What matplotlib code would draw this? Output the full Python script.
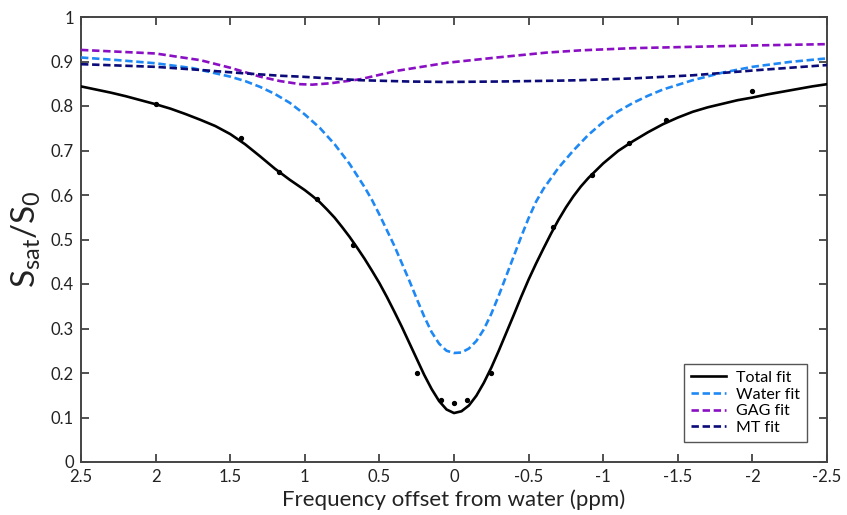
import matplotlib
matplotlib.use("Agg")
import matplotlib.pyplot as plt

plt.rcParams['font.family'] = ['Lato', 'DejaVu Sans']
plt.rcParams['mathtext.default'] = 'regular'
plt.rcParams['axes.unicode_minus'] = False

# Measured data points
data_x = [2.0, 1.43, 1.17, 0.92, 0.675, 0.25, 0.085, 0.0, -0.085, -0.25,
          -0.665, -0.925, -1.17, -1.42, -2.0]
data_y = [0.805, 0.729, 0.651, 0.590, 0.487, 0.200, 0.139, 0.133, 0.139, 0.200,
          0.529, 0.646, 0.716, 0.769, 0.834]

# Total fit
total_x = [2.5, 2.4, 2.3, 2.2, 2.1, 2.0, 1.9, 1.8, 1.7, 1.6, 1.5, 1.4, 1.3, 1.2,
           1.1, 1.0, 0.95, 0.9, 0.85, 0.8, 0.75, 0.7, 0.65, 0.6, 0.55, 0.5, 0.45,
           0.4, 0.35, 0.3, 0.25, 0.2, 0.15, 0.1, 0.05, 0.0, -0.05, -0.1, -0.15,
           -0.2, -0.25, -0.3, -0.35, -0.4, -0.45, -0.5, -0.55, -0.6, -0.65, -0.7,
           -0.75, -0.8, -0.85, -0.9, -1.0, -1.1, -1.2, -1.3, -1.4, -1.5, -1.6,
           -1.7, -1.8, -1.9, -2.0, -2.1, -2.2, -2.3, -2.4, -2.5]
total_y = [0.844, 0.837, 0.830, 0.822, 0.813, 0.804, 0.794, 0.782, 0.769, 0.755,
           0.737, 0.714, 0.687, 0.659, 0.634, 0.611, 0.598, 0.584, 0.567, 0.549,
           0.528, 0.506, 0.482, 0.457, 0.430, 0.402, 0.371, 0.338, 0.304, 0.268,
           0.232, 0.196, 0.164, 0.137, 0.118, 0.110, 0.114, 0.127, 0.149, 0.178,
           0.212, 0.250, 0.290, 0.330, 0.371, 0.410, 0.446, 0.480, 0.513, 0.544,
           0.572, 0.597, 0.619, 0.638, 0.671, 0.699, 0.721, 0.741, 0.759, 0.774,
           0.787, 0.797, 0.805, 0.813, 0.819, 0.826, 0.832, 0.838, 0.844, 0.849]

# Water fit
water_x = [2.5, 2.25, 2.0, 1.75, 1.5, 1.4, 1.3, 1.2, 1.1, 1.0, 0.9, 0.8, 0.7,
           0.6, 0.55, 0.5, 0.45, 0.4, 0.35, 0.3, 0.25, 0.2, 0.15, 0.1, 0.05, 0.0,
           -0.05, -0.1, -0.15, -0.2, -0.25, -0.3, -0.35, -0.4, -0.45, -0.5, -0.55,
           -0.6, -0.7, -0.8, -0.9, -1.0, -1.1, -1.2, -1.3, -1.4, -1.6, -1.8, -2.0,
           -2.25, -2.5]
water_y = [0.909, 0.903, 0.896, 0.885, 0.866, 0.856, 0.843, 0.827, 0.807, 0.781,
           0.751, 0.714, 0.670, 0.618, 0.589, 0.556, 0.521, 0.486, 0.447, 0.408,
           0.367, 0.327, 0.292, 0.266, 0.250, 0.245, 0.246, 0.255, 0.272, 0.298,
           0.333, 0.374, 0.418, 0.462, 0.506, 0.548, 0.585, 0.614, 0.661, 0.700,
           0.735, 0.764, 0.788, 0.807, 0.823, 0.837, 0.858, 0.875, 0.888, 0.899,
           0.907]

# GAG fit
gag_x = [2.5, 2.0, 1.7, 1.5, 1.43, 1.3, 1.166, 1.03, 0.95, 0.83, 0.63, 0.384,
         0.05, -0.286, -0.62, -0.845, -1.2, -1.6, -2.0, -2.5]
gag_y = [0.926, 0.918, 0.903, 0.886, 0.879, 0.866, 0.856, 0.849, 0.848, 0.851,
         0.860, 0.879, 0.897, 0.909, 0.920, 0.925, 0.930, 0.933, 0.936, 0.939]

# MT fit
mt_x = [2.5, 2.0, 1.7, 1.43, 1.166, 1.03, 0.63, 0.3, 0.05, -0.3, -0.71, -0.845,
        -1.2, -1.6, -2.05, -2.5]
mt_y = [0.894, 0.888, 0.881, 0.874, 0.868, 0.866, 0.858, 0.855, 0.854, 0.855,
        0.857, 0.858, 0.862, 0.869, 0.881, 0.892]

x_ticks = [2.5, 2, 1.5, 1, 0.5, 0, -0.5, -1, -1.5, -2, -2.5]
x_tick_labels = ['2.5', '2', '1.5', '1', '0.5', '0', '-0.5', '-1', '-1.5', '-2', '-2.5']
y_ticks = [0, 0.1, 0.2, 0.3, 0.4, 0.5, 0.6, 0.7, 0.8, 0.9, 1]
y_tick_labels = ['0', '0.1', '0.2', '0.3', '0.4', '0.5', '0.6', '0.7', '0.8', '0.9', '1']

fig = plt.figure(figsize=(8.47, 5.15), dpi=100)
ax = fig.add_axes([81 / 847, 53 / 515, 746 / 847, 445 / 515])

dash = (2.8, 1.4)
ax.plot(total_x, total_y, color='black', lw=1.9, label='Total fit', zorder=4)
ax.plot(water_x, water_y, color='#1e88f5', lw=1.9, dashes=dash, label='Water fit', zorder=3)
ax.plot(gag_x, gag_y, color='#8a0fc4', lw=1.9, dashes=dash, label='GAG fit', zorder=3)
ax.plot(mt_x, mt_y, color='#0a0a78', lw=1.9, dashes=dash, label='MT fit', zorder=3)
ax.plot(data_x, data_y, 'o', color='black', ms=2.8, zorder=5)

ax.set_xlim(2.5, -2.5)
ax.set_ylim(0, 1)
ax.set_xticks(x_ticks)
ax.set_xticklabels(x_tick_labels)
ax.set_yticks(y_ticks)
ax.set_yticklabels(y_tick_labels)
ax.tick_params(direction='in', length=6, width=1.2, colors='#333333',
               labelcolor='#222222', labelsize=12, top=True, right=True, pad=5)
for s in ax.spines.values():
    s.set_color('#444444')
    s.set_linewidth(1.4)

ax.set_xlabel('Frequency offset from water (ppm)', fontsize=16, color='#222222', labelpad=3)
ax.set_ylabel('$S_{sat}/S_0$', fontsize=24, color='#222222', labelpad=6)

leg = ax.legend(loc='lower right', bbox_to_anchor=((807 - 81) / 746, 20 / 445),
                borderaxespad=0, fontsize=11.5,
                fancybox=False, framealpha=1, edgecolor='#555555',
                handlelength=2.2, handletextpad=0.6, labelspacing=0.15,
                borderpad=0.45)
leg.get_frame().set_linewidth(1.0)

fig.savefig('out.png', dpi=100)
